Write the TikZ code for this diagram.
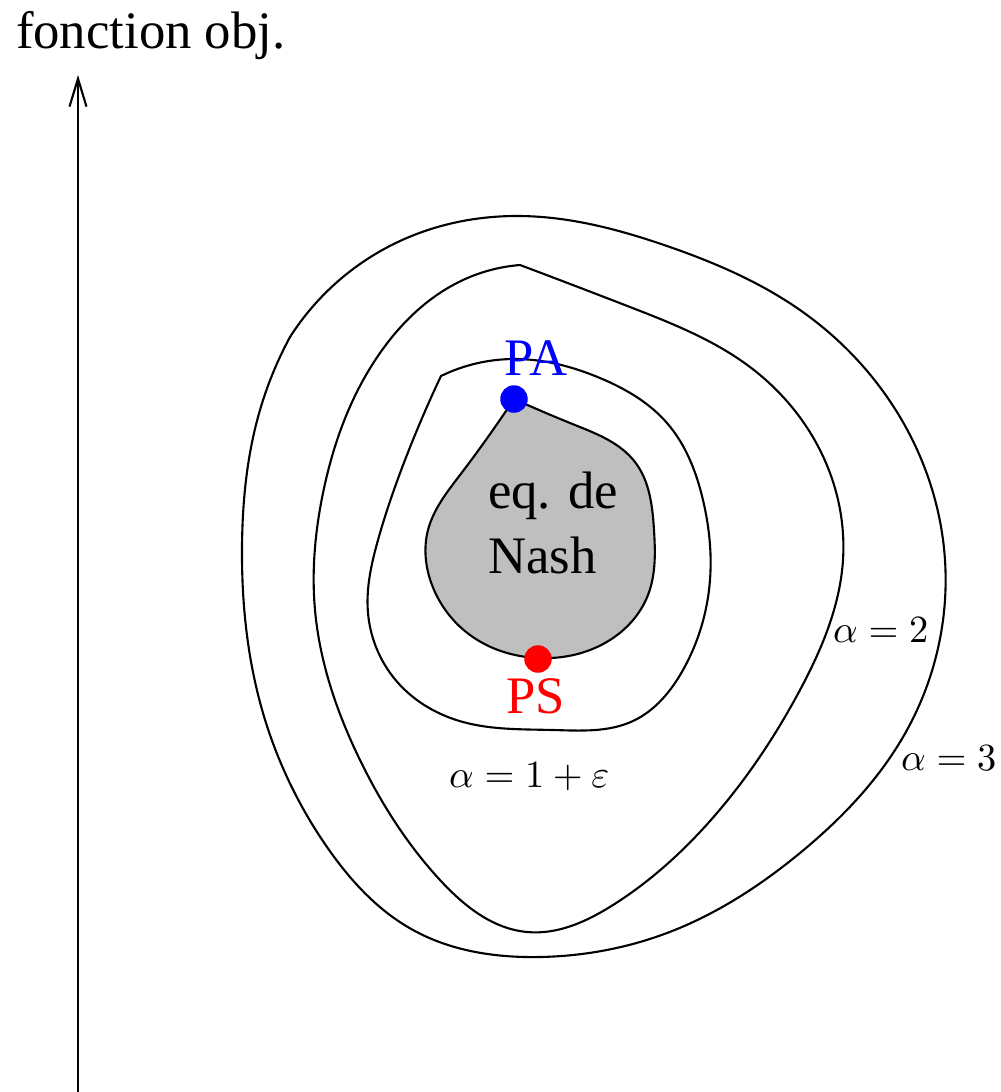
\documentclass[tikz,border=0pt]{standalone}
\usepackage[no-math]{fontspec}
\setmainfont{Liberation Serif}
\usetikzlibrary{arrows.meta,hobby}
\begin{document}
\begin{tikzpicture}[x=0.1mm,y=-0.1mm,line join=round,line cap=round,line width=0.6pt,>={Straight Barb[length=2.8mm,width=1.7mm]}]
	\tikzset{txt/.style={font=\fontsize{15}{18.4}\selectfont,inner sep=0pt},
		lbl/.style={font=\fontsize{10.9}{13}\selectfont,inner sep=0pt,anchor=base west},
		pt/.style={circle,fill,inner sep=0pt,minimum size=2.75mm}}
	\useasboundingbox (0,0) rectangle (1001,1092);
	\coordinate (bas) at (78,1092);
	\coordinate (haut) at (78,75);
	\draw[->] (bas)--(haut);
	\node[txt,anchor=base west] (obj) at (15,48) {fonction obj.};
	\draw[use Hobby shortcut] (290,337)..(400,241)..(520,216)..(667,246)..(800,310)..(900,417)..(945,560)..(907,730)..(800,853)..(667,933)..(540,957)..(413,930)..(327,847)..(263,713)..(242,547)..(260,410)..(290,337);
	\draw[use Hobby shortcut] (520,265)..(630,307)..(750,367)..(830,473)..(843,560)..(800,690)..(717,813)..(613,905)..(527,932)..(440,880)..(360,760)..(315,610)..(323,493)..(380,353)..(463,280)..(520,265);
	\draw[use Hobby shortcut] (441,376)..(513,359)..(600,378)..(667,423)..(703,500)..(710,580)..(683,670)..(633,721)..(553,730)..(463,722)..(400,685)..(368,613)..(378,540)..(405,460)..(441,376);
	\filldraw[fill=black!25,use Hobby shortcut] (514,399)..(575,425)..(635,462)..(654,530)..(648,595)..(610,640)..(538,658)..(470,635)..(432,585)..(428,530)..(460,475)..(514,399);
	\node[pt,blue] (PA) at (514,399) {};
	\node[pt,red] (PS) at (538,659) {};
	\node[txt,blue,anchor=base] (nomPA) at (536,375) {PA};
	\node[txt,red,anchor=base] (nomPS) at (536,713) {PS};
	\node[txt,anchor=base west,align=left] (nash) at (487,573) {eq. de\\Nash};
	\node[lbl] (a1) at (448,787) {$\alpha=1+\varepsilon$};
	\node[lbl] (a2) at (832,642) {$\alpha=2$};
	\node[lbl] (a3) at (900,770) {$\alpha=3$};
\end{tikzpicture}
\end{document}
